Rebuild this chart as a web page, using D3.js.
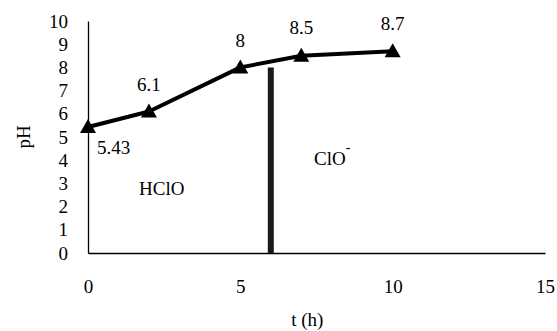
<html>
<head>
  <script src="https://d3js.org/d3.v7.min.js"></script>
  <style>
      body { margin: 0; background: #fff; }
  </style>
</head>
<body>
<div id="chart"></div>
<script>
    // data
    let hours = [0, 2, 5, 7, 10];
    let ph = [5.43, 6.1, 8, 8.5, 8.7];
    let phLabels = ["5.43", "6.1", "8", "8.5", "8.7"];
    let xTicks = [0, 5, 10, 15];
    let yTicks = [0, 1, 2, 3, 4, 5, 6, 7, 8, 9, 10];
    let divider = {t: 6, from: 0, to: 8};

    let width = 557;
    let height = 331;
    let margin = {top: 21, right: 12, bottom: 78, left: 88};
    let CHART_HEIGHT = height - margin.top - margin.bottom;
    const serif = "Liberation Serif";

    const svg = d3.select('#chart')
        .append('svg')
        .attr('width', width)
        .attr('height', height)
        .attr('font-family', serif)
        .attr('font-size', 19);

    const xScale = d3.scaleLinear()
        .domain([0, 15])
        .range([0, 457]);

    const yScale = d3.scaleLinear()
        .domain([0, 10])
        .range([CHART_HEIGHT, 0]);

    const g = svg.append('g')
        .attr('transform', `translate(${margin.left}, ${margin.top})`);

    // axes, no tick marks
    const xAxis = g.append("g")
        .attr("transform", "translate(0," + CHART_HEIGHT + ")")
        .call(d3.axisBottom(xScale).tickValues(xTicks).tickSize(0).tickPadding(27));
    const yAxis = g.append("g")
        .call(d3.axisLeft(yScale).tickValues(yTicks).tickSize(0).tickPadding(20));
    [xAxis, yAxis].forEach(a => {
        a.attr("font-family", serif).attr("font-size", 19);
        a.select(".domain").attr("stroke", "#000").attr("stroke-width", 1.3);
    });

    // divider bar
    g.append("line")
        .attr("x1", xScale(divider.t)).attr("x2", xScale(divider.t))
        .attr("y1", yScale(divider.from)).attr("y2", yScale(divider.to))
        .attr("stroke", "#1a1a1a")
        .attr("stroke-width", 6);

    const pts = hours.map((h, i) => ({t: h, v: ph[i], label: phLabels[i]}));

    g.append("path")
        .datum(pts)
        .attr("fill", "none")
        .attr("stroke", "#000")
        .attr("stroke-width", 4)
        .attr("stroke-linejoin", "round")
        .attr("d", d3.line().x(d => xScale(d.t)).y(d => yScale(d.v)));

    g.selectAll(".marker")
        .data(pts)
        .enter()
        .append("path")
        .attr("class", "marker")
        .attr("transform", d => `translate(${xScale(d.t)},${yScale(d.v)})`)
        .attr("d", "M0,-8L8,6L-8,6Z")
        .attr("fill", "#000");

    // value labels
    const labelDy = [20, -27, -27, -28, -28];
    g.selectAll(".val")
        .data(pts)
        .enter()
        .append("text")
        .attr("class", "val")
        .attr("x", (d, i) => i === 0 ? xScale(d.t) + 9 : xScale(d.t))
        .attr("y", (d, i) => yScale(d.v) + labelDy[i])
        .attr("text-anchor", (d, i) => i === 0 ? "start" : "middle")
        .attr("dy", "0.35em")
        .text(d => d.label);

    // region labels
    g.append("text")
        .attr("x", 51).attr("y", 174)
        .text("HClO");
    const clo = g.append("text")
        .attr("x", 226).attr("y", 144)
        .text("ClO");
    clo.append("tspan")
        .attr("dy", -13)
        .attr("font-size", 14)
        .text("-");

    // axis titles
    svg.append("text")
        .attr("x", margin.left + xScale(7.2))
        .attr("y", 326)
        .attr("text-anchor", "middle")
        .text("t (h)");
    svg.append("text")
        .attr("transform", "translate(30," + (margin.top + yScale(5)) + ") rotate(-90)")
        .attr("text-anchor", "middle")
        .text("pH");
</script>
</body>
</html>
